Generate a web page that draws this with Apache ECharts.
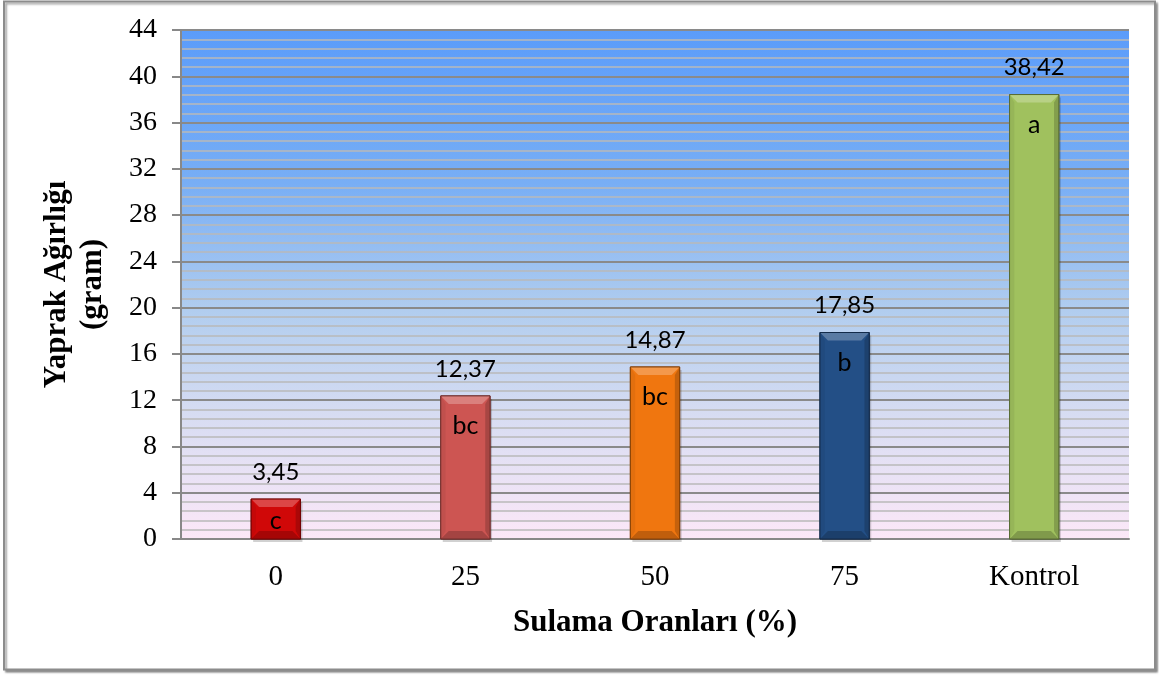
<!DOCTYPE html>
<html>
<head>
<meta charset="utf-8">
<script src="https://cdn.jsdelivr.net/npm/echarts@6/dist/echarts.min.js"></script>
<style>
  html, body { margin: 0; padding: 0; background: #ffffff; }
  #chart { width: 1159px; height: 675px; }
</style>
</head>
<body>
<div id="chart"></div>
<script>
// Irrigation rates and leaf weight per plant
const categories = ['0', '25', '50', '75', 'Kontrol'];
const values = [3.45, 12.37, 14.87, 17.85, 38.42];
const groupLetters = ['c', 'bc', 'bc', 'b', 'a'];
const barColors = ['#d00808', '#cd5552', '#f0760f', '#234f86', '#a0c15e'];
const yTicks = { min: 0, max: 44, interval: 4 };

function shade(hex, amt) {
  const n = parseInt(hex.slice(1), 16);
  let r = (n >> 16) & 255, g = (n >> 8) & 255, b = n & 255;
  const f = c => Math.max(0, Math.min(255, Math.round(amt >= 0 ? c + (255 - c) * amt : c * (1 + amt))));
  return 'rgb(' + f(r) + ',' + f(g) + ',' + f(b) + ')';
}

const chart = echarts.init(document.getElementById('chart'), null, { renderer: 'canvas' });

function renderBevelBar(params, api) {
  const idx = params.dataIndex;
  const v = api.value(1);
  const top = api.coord([api.value(0), v]);
  const base = api.coord([api.value(0), 0]);
  const bandW = api.size([1, 0])[0];
  const w = bandW * 0.26;
  const x0 = top[0] - w / 2, x1 = top[0] + w / 2;
  const y0 = top[1], y1 = base[1];
  const h = y1 - y0;
  const b = Math.min(8, h / 3);
  const col = barColors[idx];
  const children = [
    { type: 'rect', shape: { x: x0 + 2, y: y0 + 3, width: w, height: h },
      style: { fill: 'rgba(0,0,0,0.18)' } },
    { type: 'rect', shape: { x: x0, y: y0, width: w, height: h },
      style: { fill: col, stroke: shade(col, -0.45), lineWidth: 1 } },
    // top bevel
    { type: 'polygon', shape: { points: [[x0, y0], [x1, y0], [x1 - b, y0 + b], [x0 + b, y0 + b]] },
      style: { fill: shade(col, 0.25) } },
    // bottom bevel
    { type: 'polygon', shape: { points: [[x0, y1], [x1, y1], [x1 - b, y1 - b], [x0 + b, y1 - b]] },
      style: { fill: shade(col, -0.2) } },
    // left bevel
    { type: 'polygon', shape: { points: [[x0, y0], [x0 + b * 0.6, y0 + b], [x0 + b * 0.6, y1 - b], [x0, y1]] },
      style: { fill: shade(col, -0.06) } },
    // right bevel
    { type: 'polygon', shape: { points: [[x1, y0], [x1 - b * 0.6, y0 + b], [x1 - b * 0.6, y1 - b], [x1, y1]] },
      style: { fill: shade(col, -0.18) } },
    { type: 'rect', shape: { x: x0, y: y0, width: w, height: h },
      style: { fill: 'none', stroke: shade(col, -0.45), lineWidth: 1 } },
    // value label above the bar
    { type: 'text', x: top[0], y: y0 - 27,
      style: { text: v.toFixed(2).replace('.', ','), fill: '#000', font: '24px Lato',
               align: 'center', verticalAlign: 'middle' } },
    // group letter inside the bar
    { type: 'text', x: top[0], y: y0 + Math.min(30, h / 2 + 2),
      style: { text: groupLetters[idx], fill: '#000', font: '25px Lato',
               align: 'center', verticalAlign: 'middle' } }
  ];
  return { type: 'group', children: children };
}

const option = {
  animation: false,
  backgroundColor: '#ffffff',
  graphic: [
    { type: 'rect', z: -10, shape: { x: 4, y: 1.5, width: 1151, height: 668 },
      style: { fill: '#ffffff', stroke: '#8c8c8c', lineWidth: 2,
               shadowColor: 'rgba(0,0,0,0.35)', shadowOffsetX: 2, shadowOffsetY: 2, shadowBlur: 2 } }
  ],
  grid: {
    left: 181, right: 30, top: 30, bottom: 136,
    show: true, borderWidth: 0,
    backgroundColor: {
      type: 'linear', x: 0, y: 0, x2: 0, y2: 1,
      colorStops: [
        { offset: 0, color: '#5b9cfa' },
        { offset: 0.3, color: '#78aef5' },
        { offset: 0.55, color: '#b1cdef' },
        { offset: 0.75, color: '#d6dcf2' },
        { offset: 1, color: '#fce8f8' }
      ]
    }
  },
  xAxis: {
    type: 'category',
    data: categories,
    name: 'Sulama Oranları (%)',
    nameLocation: 'middle',
    nameGap: 68,
    nameTextStyle: { fontFamily: 'Liberation Serif', fontWeight: 'bold', fontSize: 31, color: '#000' },
    axisLine: { show: true, lineStyle: { color: '#888', width: 2 } },
    axisTick: { show: false },
    axisLabel: { fontFamily: 'Liberation Serif', fontSize: 29, color: '#000', margin: 24 },
    splitLine: { show: false }
  },
  yAxis: {
    type: 'value',
    min: yTicks.min, max: yTicks.max, interval: yTicks.interval,
    name: 'Yaprak Ağırlığı\n(gram)',
    nameLocation: 'middle',
    nameGap: 70,
    nameRotate: 90,
    nameTextStyle: { fontFamily: 'Liberation Serif', fontWeight: 'bold', fontSize: 31, color: '#000', lineHeight: 36 },
    axisLine: { show: true, lineStyle: { color: '#888', width: 2 } },
    axisTick: { show: true, length: 9, lineStyle: { color: '#888', width: 2 } },
    axisLabel: { fontFamily: 'Liberation Serif', fontSize: 28, color: '#000', margin: 24 },
    splitLine: { show: true, lineStyle: { color: '#8a8a8a', width: 2 } },
    minorTick: { show: false, splitNumber: 5 },
    minorSplitLine: { show: true, lineStyle: { color: '#b9b9b9', width: 1.5 } }
  },
  series: [{
    type: 'custom',
    renderItem: renderBevelBar,
    data: values.map((v, i) => [i, v]),
    encode: { x: 0, y: 1 },
    clip: false,
    z: 5
  }]
};

chart.setOption(option);
</script>
</body>
</html>
